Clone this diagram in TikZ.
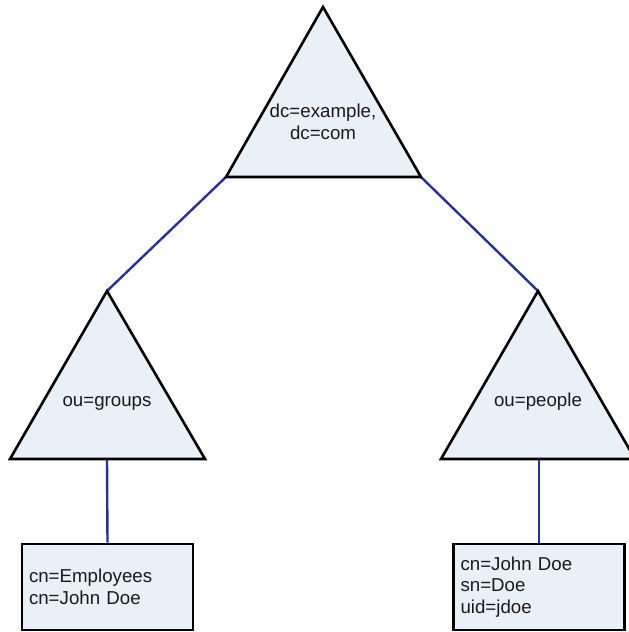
\documentclass[tikz,border=0pt]{standalone}
\usepackage{fontspec}
\setmainfont{Liberation Sans}
\definecolor{nodefill}{HTML}{EAF0F7}
\definecolor{linkblue}{HTML}{2B3192}
\definecolor{inktext}{HTML}{1A1A1A}
\begin{document}
\begin{tikzpicture}[x=1pt,y=-1pt,
  tri/.style={draw=black,fill=nodefill,line width=2.6pt,line join=miter},
  dn/.style={font=\fontsize{18.7}{22.5}\selectfont,text=inktext,align=center,
    inner sep=0pt},
  entry/.style={draw=black,fill=nodefill,line width=2.6pt,minimum width=171pt,
    minimum height=86pt,text width=157pt,align=left,inner sep=7pt,
    text=inktext,font=\fontsize{18.7}{21.5}\selectfont},
  link/.style={draw=linkblue,line width=2.4pt}]
\useasboundingbox (0,0) rectangle (629,632);
\clip (0,0) rectangle (629,632);
\fill[white] (0,0) rectangle (629,632);

% corner points of the three tree triangles
\coordinate (root-top) at (323,7);
\coordinate (root-bl) at (226,177);
\coordinate (root-br) at (421,177);
\coordinate (grp-top) at (107,291);
\coordinate (grp-bl) at (10,459);
\coordinate (grp-br) at (205,459);
\coordinate (grp-base) at (107,459);
\coordinate (ppl-top) at (538,291);
\coordinate (ppl-bl) at (441,459);
\coordinate (ppl-br) at (635,459);
\coordinate (ppl-base) at (539,459);

% leaf entries
\node[entry] (emp) at (107.5,587) {cn=Employees\\cn=John Doe};
\node[entry] (jdoe) at (539,587) {cn=John Doe\\sn=Doe\\uid=jdoe};

% tree links
\draw[link] (root-bl) -- (grp-top);
\draw[link] (root-br) -- (ppl-top);
\draw[link] (grp-base) -- (emp.north);
\draw[link] (ppl-base) -- (jdoe.north);

% subtrees
\filldraw[tri] (root-top) -- (root-br) -- (root-bl) -- cycle;
\filldraw[tri] (grp-top) -- (grp-br) -- (grp-bl) -- cycle;
\filldraw[tri] (ppl-top) -- (ppl-br) -- (ppl-bl) -- cycle;

% subtree names
\node[dn] (root) at (323,122) {dc=example,\\dc=com};
\node[dn,anchor=base] (groups) at (107,406) {ou=groups};
\node[dn,anchor=base] (people) at (538,406) {ou=people};
\end{tikzpicture}
\end{document}
